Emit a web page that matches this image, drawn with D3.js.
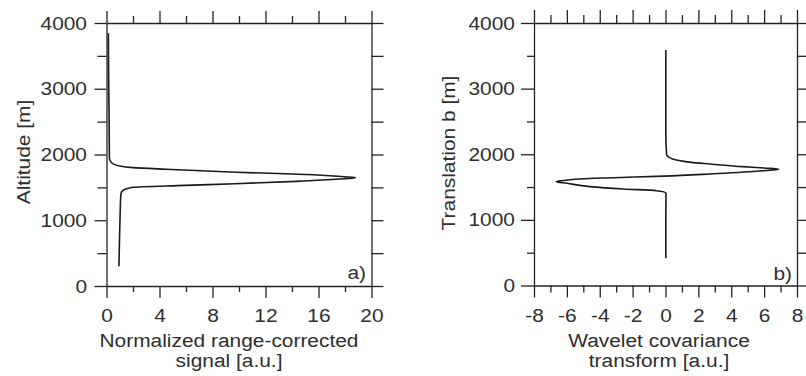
<!DOCTYPE html>
<html>
<head>
<meta charset="utf-8">
<script src="https://cdn.jsdelivr.net/npm/d3@7"></script>
<style>
  body { margin: 0; background: #fff; }
  svg { display: block; background: #fff; }
  text { font-family: "Liberation Sans", Arial, Helvetica, sans-serif; fill: #2e2e2e; font-size: 19px; }
</style>
</head>
<body>
<svg id="fig" width="806" height="376"></svg>
<script>
// Shared altitude / translation axis
const altitudeTicks = [0, 1000, 2000, 3000, 4000];
const altitudeMinor = [500, 1500, 2500, 3500];

// Panel a) axis
const signalTicks = [0, 4, 8, 12, 16, 20];
const signalMinor = [2, 6, 10, 14, 18];

// Panel b) axis
const wctTicks = [-8, -6, -4, -2, 0, 2, 4, 6, 8];
const wctMinor = [-7, -5, -3, -1, 1, 3, 5, 7];

// a) normalized range-corrected lidar signal vs altitude [m]
const signalAltitude = [300, 700, 1100, 1380, 1434, 1470, 1501, 1530, 1555, 1592, 1627, 1647,
                        1662, 1693, 1730, 1775, 1800, 1825, 1875, 1942, 2500, 3000, 3843];
const signalValue    = [0.94, 0.98, 1.03, 1.08, 1.15, 1.4, 2.0, 5.9, 9.7, 14.3, 17.6, 18.8,
                        17.9, 15.6, 9.8, 4.5, 2.0, 1.0, 0.39, 0.22, 0.2, 0.17, 0.14];

// b) wavelet covariance transform vs translation b [m]
const wctTranslation = [415, 1000, 1390, 1415, 1445, 1471, 1506, 1558, 1582, 1600, 1619, 1639,
                        1667, 1700, 1741, 1771, 1790, 1811, 1852, 1872, 1900, 1924, 1960, 1990, 2300, 3590];
const wctValue       = [0.02, 0.02, 0.03, 0.0, -0.55, -2.6, -4.6, -6.0, -6.65, -6.2, -5.5, -3.6,
                        -0.1, 2.7, 5.55, 6.9, 6.0, 4.7, 2.7, 1.7, 0.9, 0.47, 0.18, 0.07, 0.02, 0.02];

const SX = 1.1;   // horizontal stretch of the lettering
const ink = "#222";

const svg = d3.select("#fig");

function stretchText(sel) {
  sel.selectAll("text").each(function () {
    const t = d3.select(this);
    const x = +t.attr("x") || 0;
    t.attr("x", x / SX).attr("transform", `scale(${SX},1)`);
  });
}

function styleAxis(sel) {
  sel.attr("font-size", null).attr("font-family", null);
  sel.selectAll("path.domain").attr("stroke", ink).attr("stroke-width", 1.3);
  sel.selectAll(".tick line").attr("stroke", ink).attr("stroke-width", 1.3);
}

function drawPanel(cfg) {
  const x = d3.scaleLinear().domain(cfg.xDomain).range(cfg.xRange);
  const y = d3.scaleLinear().domain([0, 4000]).range(cfg.yRange);
  const [x0, x1] = cfg.xRange;
  const [y0, y1] = cfg.yRange;
  const g = svg.append("g");

  const fmt = d => String(d);
  const none = () => "";

  // minor ticks (no labels, no domain line)
  const minors = [
    [d3.axisBottom(x).tickValues(cfg.xMinor).tickSize(cfg.bMinor), `translate(0,${y0})`],
    [d3.axisTop(x).tickValues(cfg.xMinor).tickSize(cfg.tMinor), `translate(0,${y1})`],
    [d3.axisLeft(y).tickValues(altitudeMinor).tickSize(cfg.lMinor), `translate(${x0},0)`],
    [d3.axisRight(y).tickValues(altitudeMinor).tickSize(cfg.rMinor), `translate(${x1},0)`]
  ];
  minors.forEach(([ax, tr]) => {
    g.append("g").attr("transform", tr)
      .call(ax.tickFormat(none).tickSizeOuter(0))
      .call(styleAxis)
      .call(s => s.select(".domain").remove());
  });

  // major ticks with frame lines
  g.append("g").attr("transform", `translate(0,${y0})`)
    .call(d3.axisBottom(x).tickValues(cfg.xTicks).tickSize(12).tickSizeOuter(0)
      .tickPadding(11).tickFormat(fmt))
    .call(styleAxis).call(stretchText);
  g.append("g").attr("transform", `translate(0,${y1})`)
    .call(d3.axisTop(x).tickValues(cfg.xTicks).tickSize(cfg.tMajor).tickSizeOuter(0).tickFormat(none))
    .call(styleAxis);
  g.append("g").attr("transform", `translate(${x0},0)`)
    .call(d3.axisLeft(y).tickValues(altitudeTicks).tickSize(cfg.lMajor).tickSizeOuter(0)
      .tickPadding(cfg.lPad).tickFormat(fmt))
    .call(styleAxis).call(stretchText);
  g.append("g").attr("transform", `translate(${x1},0)`)
    .call(d3.axisRight(y).tickValues(altitudeTicks).tickSize(12).tickSizeOuter(0).tickFormat(none))
    .call(styleAxis);

  // profile curve
  const pts = cfg.alt.map((a, i) => [cfg.val[i], a]);
  g.append("path")
    .datum(pts)
    .attr("fill", "none")
    .attr("stroke", "#1a1a1a")
    .attr("stroke-width", 1.6)
    .attr("stroke-linejoin", "round")
    .attr("d", d3.line().x(d => x(d[0])).y(d => y(d[1])).curve(d3.curveMonotoneY));

  // x title (two lines)
  cfg.xTitle.forEach((line, i) => {
    g.append("text")
      .attr("text-anchor", "middle")
      .attr("transform", `translate(${cfg.xTitleX},${347 + i * 20}) scale(${SX},1)`)
      .text(line);
  });

  // y title
  g.append("text")
    .attr("text-anchor", "middle")
    .attr("transform", `translate(${cfg.yTitleX},${cfg.yTitleY}) rotate(-90) scale(${SX},1)`)
    .text(cfg.yTitle);

  // panel letter
  g.append("text")
    .attr("text-anchor", "end")
    .attr("transform", `translate(${cfg.tagX},${cfg.tagY}) scale(${SX},1)`)
    .text(cfg.tag);
}

drawPanel({
  xDomain: [0, 20], xRange: [106.5, 371.5], yRange: [286, 23],
  xTicks: signalTicks, xMinor: signalMinor,
  bMinor: 6, tMinor: 7, tMajor: 12, lMinor: 9, lMajor: 12, rMinor: 12, lPad: 7.5,
  alt: signalAltitude, val: signalValue,
  xTitle: ["Normalized range-corrected", "signal [a.u.]"], xTitleX: 229,
  yTitle: "Altitude [m]", yTitleX: 30, yTitleY: 152,
  tag: "a)", tagX: 366, tagY: 279
});

drawPanel({
  xDomain: [-8, 8], xRange: [534, 797], yRange: [285.5, 23],
  xTicks: wctTicks, xMinor: wctMinor,
  bMinor: 7, tMinor: 8, tMajor: 13, lMinor: 7, lMajor: 13, rMinor: 12, lPad: 6,
  alt: wctTranslation, val: wctValue,
  xTitle: ["Wavelet covariance", "transform [a.u.]"], xTitleX: 659,
  yTitle: "Translation b [m]", yTitleX: 455, yTitleY: 153,
  tag: "b)", tagX: 792, tagY: 280
});
</script>
</body>
</html>
